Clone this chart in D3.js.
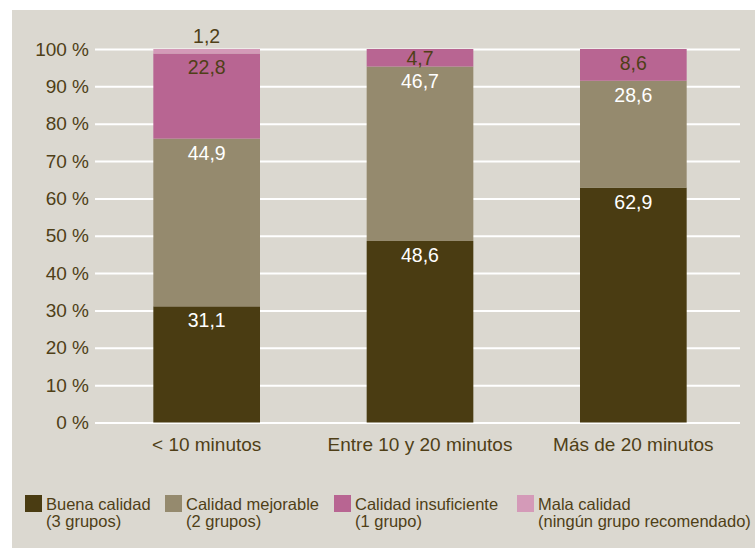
<!DOCTYPE html>
<html>
<head>
<meta charset="utf-8">
<script src="https://cdn.jsdelivr.net/npm/d3@7"></script>
<style>
  body { margin: 0; background: #fff; }
  text { font-family: "Liberation Sans", Arial, sans-serif; }
</style>
</head>
<body>
<div id="chart"></div>
<script>
// categories and series
const categories = ["< 10 minutos", "Entre 10 y 20 minutos", "Más de 20 minutos"];
const buena = [31.1, 48.6, 62.9];
const mejorable = [44.9, 46.7, 28.6];
const insuficiente = [22.8, 4.7, 8.6];
const mala = [1.2, 0, 0];
const seriesNames = ["buena", "mejorable", "insuficiente", "mala"];
const legendLines = [
  ["Buena calidad", "(3 grupos)"],
  ["Calidad mejorable", "(2 grupos)"],
  ["Calidad insuficiente", "(1 grupo)"],
  ["Mala calidad", "(ningún grupo recomendado)"]
];
const yTicks = [0, 10, 20, 30, 40, 50, 60, 70, 80, 90, 100];

const colors = ["#4a3c12", "#958a6e", "#b86592", "#d49ab8"];
const textDark = "#4f3f17";

const rows = categories.map((c, i) => ({
  cat: c, buena: buena[i], mejorable: mejorable[i], insuficiente: insuficiente[i], mala: mala[i]
}));

const width = 755;
const height = 548;
const marginTop = 49;
const marginBottom = 125.5;
const marginLeft = 95;

const svg = d3.select("#chart")
  .append("svg")
  .attr("width", width)
  .attr("height", height)
  .attr("viewBox", [0, 0, width, height]);

// background panel
svg.append("rect")
  .attr("x", 12).attr("y", 10)
  .attr("width", width - 12).attr("height", height - 10)
  .attr("fill", "#dbd8d0");

const x = d3.scaleBand()
  .domain(categories)
  .range([100, 740])
  .paddingInner(0.5)
  .paddingOuter(0.25);

const y = d3.scaleLinear()
  .domain([0, 100])
  .range([height - marginBottom, marginTop]);

// gridlines + y labels
const yAxis = svg.append("g")
  .attr("transform", `translate(${marginLeft},0)`)
  .call(d3.axisLeft(y).tickValues(yTicks).tickSize(0).tickPadding(6).tickFormat(d => d + " %"));
yAxis.select(".domain").remove();
yAxis.selectAll("text")
  .attr("fill", textDark)
  .attr("font-size", 19)
  .attr("font-family", "Liberation Sans, Arial, sans-serif");
yAxis.selectAll(".tick").append("line")
  .attr("x1", 0).attr("x2", 740 - marginLeft)
  .attr("stroke", "#fff")
  .attr("stroke-width", 2);

const stack = d3.stack().keys(seriesNames);
const stacked = stack(rows);

const layers = svg.append("g").selectAll("g")
  .data(stacked)
  .join("g")
  .attr("fill", (d, i) => colors[i]);

layers.selectAll("rect")
  .data(d => d)
  .join("rect")
  .attr("x", d => x(d.data.cat))
  .attr("width", x.bandwidth())
  .attr("y", d => y(Math.min(d[1], 100)))
  .attr("height", d => Math.max(0, y(d[0]) - y(Math.min(d[1], 100))));

// value labels
const labels = svg.append("g")
  .attr("text-anchor", "middle")
  .attr("font-size", 19.5);

stacked.forEach((layer, li) => {
  layer.forEach(d => {
    const v = d[1] - d[0];
    if (v <= 0) return;
    const top = y(Math.min(d[1], 100));
    const bottom = y(d[0]);
    const isMala = li === 3;
    // near the top of the segment, but kept inside thin segments
    const ly = isMala ? top - 6 : Math.min(top + 21, (top + bottom) / 2 + 7);
    labels.append("text")
      .attr("x", x(d.data.cat) + x.bandwidth() / 2)
      .attr("y", ly)
      .attr("fill", (li === 2 || isMala) ? textDark : "#fff")
      .text(d3.format(".1f")(v).replace(".", ","));
  });
});

// x axis labels
const xAxis = svg.append("g")
  .attr("transform", `translate(0,${height - marginBottom})`)
  .call(d3.axisBottom(x).tickSize(0).tickPadding(15));
xAxis.select(".domain").remove();
xAxis.selectAll("text")
  .attr("fill", textDark)
  .attr("font-size", 19)
  .attr("font-family", "Liberation Sans, Arial, sans-serif");

// legend
const legendX = [25, 165, 334, 517];
const legend = svg.append("g")
  .selectAll("g")
  .data(legendLines)
  .join("g")
  .attr("transform", (d, i) => `translate(${legendX[i]},495)`);

legend.append("rect")
  .attr("width", 17).attr("height", 17)
  .attr("fill", (d, i) => colors[i]);

legend.append("text")
  .attr("x", 21)
  .attr("fill", textDark)
  .attr("font-size", 16.5)
  .selectAll("tspan")
  .data(d => d)
  .join("tspan")
  .attr("x", 21)
  .attr("y", (d, i) => 14.5 + i * 17.5)
  .text(d => d);
</script>
</body>
</html>
